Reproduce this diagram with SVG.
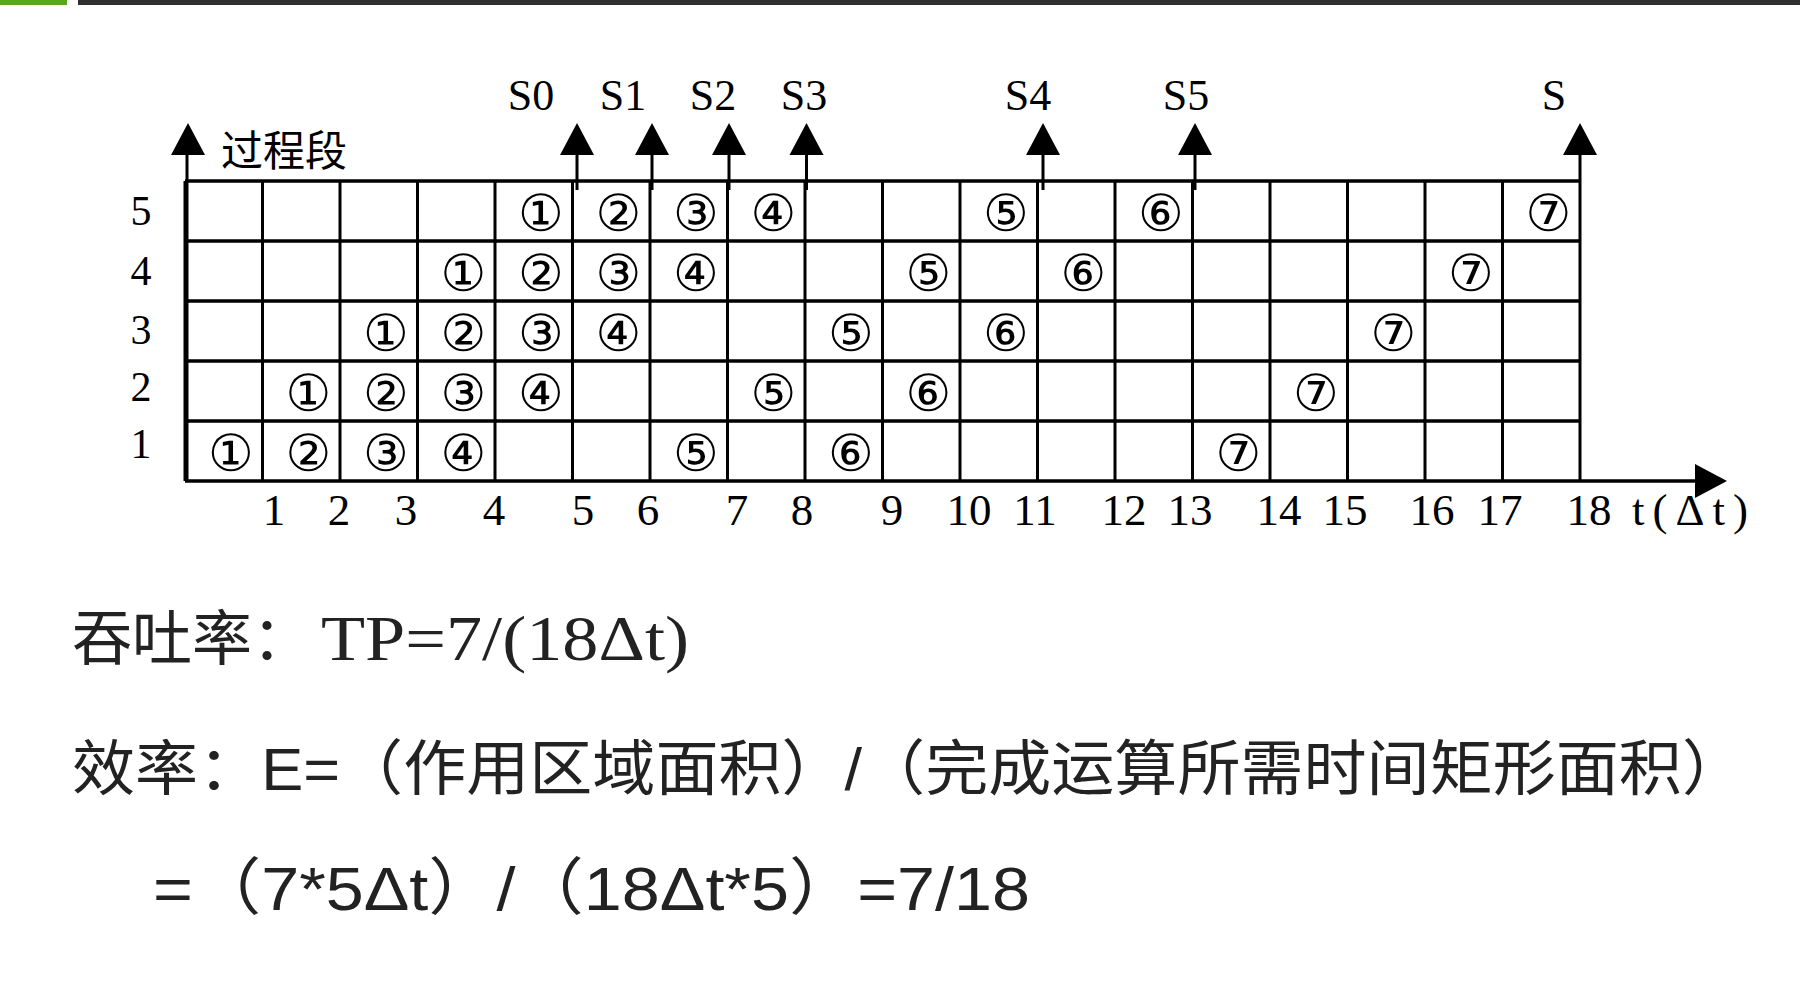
<svg xmlns="http://www.w3.org/2000/svg" width="1800" height="988" viewBox="0 0 1800 988">
<style>
.g{stroke:#000;stroke-width:3;fill:none}
.h{stroke:#000;stroke-width:3.5;fill:none}
.ah{fill:#000;stroke:none}
.lbl{font-family:"Liberation Serif",serif;fill:#000}
.s{font-size:44px;text-anchor:middle}
.ax{font-size:45px;text-anchor:middle}
.row{font-size:42px;text-anchor:middle}
.c{font-family:"DejaVu Sans","Noto Sans CJK SC",sans-serif;font-size:51px;text-anchor:middle;fill:#000}
.f{font-family:"Liberation Sans","Noto Sans CJK SC",sans-serif;fill:#222;font-size:60px}
</style>
<rect x="0" y="0" width="67" height="5" fill="#5ba71b"/>
<rect x="78" y="0" width="1722" height="5" fill="#2f2f2f"/>

<g id="grid">
<path class="h" d="M185 181H1580M185 241H1580M185 301H1580M185 361H1580M185 421H1580"/>
<path class="g" d="M185 181V481M262.5 181V481M340 181V481M417.5 181V481M495 181V481M572.5 181V481M650 181V481M727.5 181V481M805 181V481M882.5 181V481M960 181V481M1037.5 181V481M1115 181V481M1192.5 181V481M1270 181V481M1347.5 181V481M1425 181V481M1502.5 181V481M1580 181V481"/>
</g>

<g id="connectors">
<path class="h" d="M185 481H1700"/>
<polygon class="ah" points="1695,464 1727,481 1695,498"/>
<path class="g" d="M187 481V152"/>
<polygon class="ah" points="171,155 188,123 205,155"/>
<path class="g" d="M577 190V152M652 190V152M729 190V152M806.5 190V152M1043 190V152M1195 190V152M1580 181V152"/>
<polygon class="ah" points="560,155 577,123 594,155"/>
<polygon class="ah" points="635,155 652,123 669,155"/>
<polygon class="ah" points="712,155 729,123 746,155"/>
<polygon class="ah" points="789.5,155 806.5,123 823.5,155"/>
<polygon class="ah" points="1026,155 1043,123 1060,155"/>
<polygon class="ah" points="1178,155 1195,123 1212,155"/>
<polygon class="ah" points="1563,155 1580,123 1597,155"/>
</g>

<g id="stage-labels" class="lbl s">
<text x="531" y="110">S0</text>
<text x="623" y="110">S1</text>
<text x="713" y="110">S2</text>
<text x="804" y="110">S3</text>
<text x="1028" y="110">S4</text>
<text x="1186" y="110">S5</text>
<text x="1554" y="110">S</text>
</g>

<g id="y-title">
<text x="221" y="166" style="font-family:'Noto Sans CJK SC',sans-serif;font-size:42px;fill:#000">过程段</text>
</g>

<g id="row-labels" class="lbl row">
<text x="141" y="225">5</text>
<text x="141" y="285">4</text>
<text x="141" y="344">3</text>
<text x="141" y="401">2</text>
<text x="141" y="458">1</text>
</g>

<g id="x-labels" class="lbl ax">
<text x="274" y="525">1</text>
<text x="339" y="525">2</text>
<text x="406" y="525">3</text>
<text x="494" y="525">4</text>
<text x="583" y="525">5</text>
<text x="648" y="525">6</text>
<text x="737" y="525">7</text>
<text x="802" y="525">8</text>
<text x="892" y="525">9</text>
<text x="969" y="525">10</text>
<text x="1035" y="525">11</text>
<text x="1124" y="525">12</text>
<text x="1190" y="525">13</text>
<text x="1279" y="525">14</text>
<text x="1345" y="525">15</text>
<text x="1432" y="525">16</text>
<text x="1500" y="525">17</text>
<text x="1589" y="525">18</text>
<text x="1632" y="525" style="text-anchor:start;letter-spacing:8px">t(Δt)</text>
</g>

<g id="tasks" class="c">
<text x="540.75" y="230.5">①</text><text x="618.25" y="230.5">②</text><text x="695.75" y="230.5">③</text><text x="773.25" y="230.5">④</text><text x="1005.75" y="230.5">⑤</text><text x="1160.75" y="230.5">⑥</text><text x="1548.25" y="230.5">⑦</text>
<text x="463.25" y="290.5">①</text><text x="540.75" y="290.5">②</text><text x="618.25" y="290.5">③</text><text x="695.75" y="290.5">④</text><text x="928.25" y="290.5">⑤</text><text x="1083.25" y="290.5">⑥</text><text x="1470.75" y="290.5">⑦</text>
<text x="385.75" y="350.5">①</text><text x="463.25" y="350.5">②</text><text x="540.75" y="350.5">③</text><text x="618.25" y="350.5">④</text><text x="850.75" y="350.5">⑤</text><text x="1005.75" y="350.5">⑥</text><text x="1393.25" y="350.5">⑦</text>
<text x="308.25" y="410.5">①</text><text x="385.75" y="410.5">②</text><text x="463.25" y="410.5">③</text><text x="540.75" y="410.5">④</text><text x="773.25" y="410.5">⑤</text><text x="928.25" y="410.5">⑥</text><text x="1315.75" y="410.5">⑦</text>
<text x="230.75" y="470.5">①</text><text x="308.25" y="470.5">②</text><text x="385.75" y="470.5">③</text><text x="463.25" y="470.5">④</text><text x="695.75" y="470.5">⑤</text><text x="850.75" y="470.5">⑥</text><text x="1238.25" y="470.5">⑦</text>
</g>

<g id="formulas">
<text class="f" x="72" y="660">吞吐率：<tspan x="321" textLength="368" lengthAdjust="spacingAndGlyphs" style="font-family:'Liberation Serif',serif;font-size:64px">TP=7/(18Δt)</tspan></text>
<text class="f" x="72" y="790" textLength="1673" lengthAdjust="spacingAndGlyphs">效率：E=（作用区域面积）/（完成运算所需时间矩形面积）</text>
<text class="f" x="153" y="910" textLength="877" lengthAdjust="spacingAndGlyphs" style="font-size:62px">=（7*5Δt）/（18Δt*5）=7/18</text>
</g>
</svg>
